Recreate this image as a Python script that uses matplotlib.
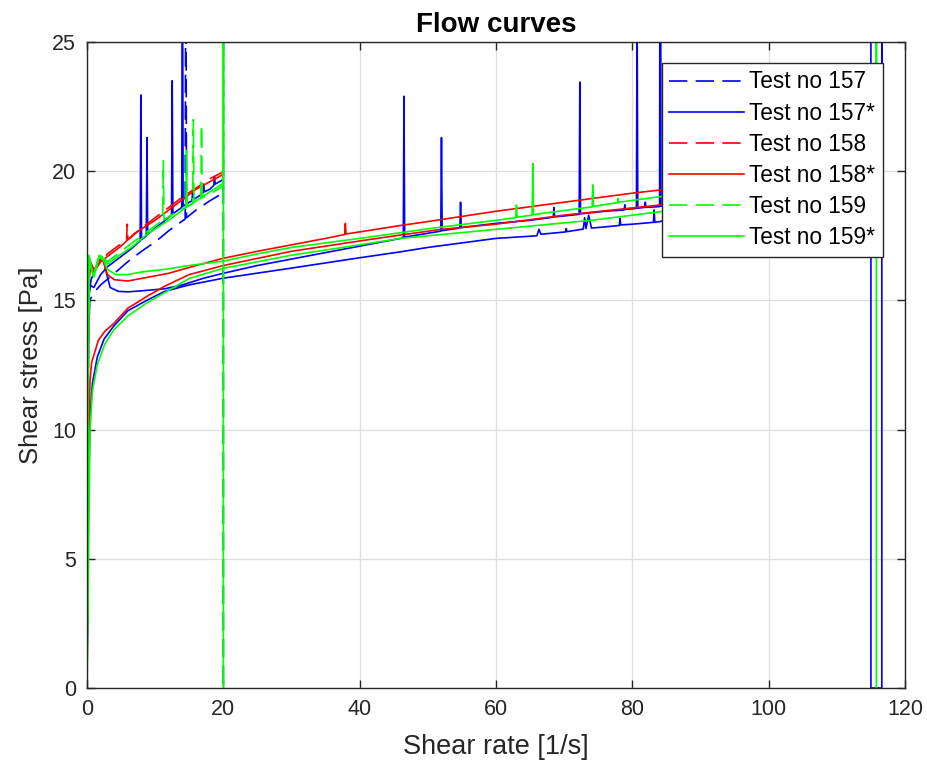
import numpy as np
import matplotlib
matplotlib.use("Agg")
import matplotlib.pyplot as plt

nan = np.nan

# ---------------------------------------------------------------------------
# Measured flow curves: shear rate [1/s] vs shear stress [Pa]
# Plain tests ramp 0 -> 20 1/s, starred tests ramp 0 -> 116 1/s and back.
# NaN separates the individual ramps of one test.
# ---------------------------------------------------------------------------

# Test no 157 (short ramp)
rate_157 = [0, 0.1, 0.2, 0.4, 1.0, 2.0, 3.6, 6.0, 8.0, 10.2, 12.0, 14.4, 14.5, 14.6,
            16.0, 18.0, 19.9, 20.0, 20.0, 20.0]
stress_157 = [0, 7, 13, 15.0, 15.3, 15.6, 15.95, 16.5, 16.9, 17.3, 17.7, 18.15, 30, 18.2,
              18.5, 18.85, 19.15, 19.15, 30, 0]

# Test no 157* (pre-ramp, ramp up, ramp down)
rate_157s = [0, 0.1, 0.2, 0.35, 1.0, 2.0, 3.0, 4.5, 6.5, 7.8, 7.9, 8.0, 8.7, 8.8, 8.9, 10.0,
             11.0, 12.4, 12.5, 12.6, 13.9, 14.0, 14.1, 15.0, 15.4, 15.5, 15.6, 16.5, 17.0,
             17.1, 17.2, 18.0, 18.6, 18.7, 18.8, 19.8, nan,
             0, 0.1, 0.2, 0.3, 0.6, 1.2, 2.0, 2.4, 2.9, 3.4, 4.6, 6.0, 8.0, 11.4, 14.0, 17.0,
             20.0, 25.0, 30.0, 35.0, 40.0, 44.0, 46.4, 46.5, 46.6, 50.0, 51.9, 52.0, 52.1,
             54.7, 54.8, 54.9, 60.0, 65.0, 68.4, 68.5, 68.6, 72.2, 72.3, 72.4, 76.0, 78.8,
             78.9, 79.0, 80.6, 80.7, 80.8, 81.8, 81.9, 82.0, 84.0, 84.1, 84.2, 90.0, 100.0,
             110.0, 116.6, 116.6, 116.6, 115.0, 115.0, nan,
             114.0, 100.0, 90.0, 84.0, 83.3, 83.2, 83.1, 80.0, 78.3, 78.2, 78.1, 75.0, 74.0,
             73.6, 73.2, 73.0, 72.8, 70.4, 70.3, 70.2, 66.6, 66.3, 66.0, 60.0, 50.0, 46.0,
             40.0, 30.0, 20.0, 15.0, 11.4, 8.75, 6.0, 3.9, 2.5, 1.5, 0.8, 0.45, 0.25, 0.1, 0]
stress_157s = [0, 8, 14, 15.6, 15.5, 16.0, 16.3, 16.6, 17.0, 17.3, 22.95, 17.35, 17.5, 21.3,
               17.55, 17.8, 18.0, 18.3, 23.5, 18.35, 18.6, 30, 18.65, 18.8, 18.85, 19.25,
               18.9, 19.05, 19.15, 19.5, 19.2, 19.3, 19.45, 19.8, 19.5, 19.65, nan,
               0, 7, 13, 15.2, 15.8, 16.2, 16.7, 16.6, 16.0, 15.5, 15.35, 15.33, 15.37,
               15.45, 15.6, 15.85, 16.05, 16.35, 16.6, 16.85, 17.1, 17.3, 17.42, 22.9, 17.45,
               17.6, 17.68, 21.3, 17.7, 17.8, 18.8, 17.82, 17.98, 18.1, 18.22, 18.6, 18.23,
               18.33, 23.45, 18.35, 18.45, 18.5, 18.7, 18.52, 18.56, 26, 18.57, 18.6, 18.8,
               18.6, 18.63, 40, 18.65, 18.8, 19.1, 19.4, 19.6, 40, 0, 0, 40, nan,
               19.0, 18.7, 18.35, 18.05, 18.02, 18.5, 18.02, 17.95, 17.92, 18.18, 17.9,
               17.82, 17.8, 18.3, 17.78, 18.2, 17.76, 17.66, 17.78, 17.65, 17.56, 17.75,
               17.5, 17.4, 17.05, 16.88, 16.65, 16.25, 15.86, 15.6, 15.35, 15.0, 14.6, 14.0,
               13.5, 12.8, 11.8, 10.5, 8, 4, 0]

# Test no 158 (short ramp)
rate_158 = [0, 0.05, 0.1, 0.15, 0.25, 0.5, 1.0, 2.0, 3.0, 4.5, 5.8, 5.9, 6.0, 6.5, 8.0,
            10.0, 12.0, 14.0, 16.0, 18.0, 19.8]
stress_158 = [0, 4, 9, 14, 16.2, 16.5, 16.2, 16.5, 16.8, 17.1, 17.3, 17.95, 17.35, 17.45,
              17.8, 18.2, 18.6, 19.0, 19.35, 19.7, 19.95]

# Test no 158* (pre-ramp, ramp up, ramp down)
rate_158s = [0, 0.1, 0.2, 0.35, 1.0, 2.0, 3.0, 5.0, 7.0, 10.0, 13.0, 16.0, 19.8, nan,
             0, 0.08, 0.15, 0.25, 0.5, 1.0, 1.8, 2.4, 3.0, 4.0, 6.0, 8.0, 12.0, 16.0, 20.0,
             25.0, 30.0, 35.0, 37.8, 37.9, 38.0, 40.0, 46.0, 50.0, 60.0, 70.0, 80.0, 84.0,
             95.0, 112.0, nan,
             112.0, 100.0, 90.0, 84.0, 70.0, 60.0, 52.0, 46.0, 40.0, 30.0, 20.0, 15.0, 11.4,
             8.75, 6.0, 3.9, 2.6, 1.66, 0.68, 0.44, 0.25, 0.1, 0]
stress_158s = [0, 9, 15, 16.4, 16.1, 16.5, 16.7, 17.1, 17.6, 18.1, 18.7, 19.3, 19.85, nan,
               0, 6, 12, 15.5, 16.3, 16.0, 16.6, 16.5, 16.0, 15.8, 15.75, 15.85, 16.05,
               16.35, 16.63, 16.9, 17.15, 17.4, 17.55, 17.98, 17.57, 17.65, 17.9, 18.05,
               18.45, 18.8, 19.15, 19.27, 19.6, 20.1, nan,
               19.4, 19.1, 18.85, 18.69, 18.3, 17.95, 17.75, 17.53, 17.3, 16.9, 16.35, 16.0,
               15.55, 15.15, 14.7, 14.1, 13.8, 13.45, 12.6, 11.9, 9, 4, 0]

# Test no 159 (short ramp)
rate_159 = [0, 0.1, 0.2, 0.3, 0.9, 1.8, 3.0, 4.5, 6.5, 9.0, 11.1, 11.2, 11.3, 13.0, 15.5,
            15.6, 15.7, 16.7, 16.8, 16.9, 18.0, 19.8, 20.0, 20.0, 20.0]
stress_159 = [0, 6, 12, 16.7, 15.9, 16.75, 16.5, 16.8, 17.2, 17.7, 18.1, 20.4, 18.12, 18.4,
              18.75, 22.0, 18.78, 18.95, 21.8, 18.97, 19.1, 19.4, 19.45, 30, 0]

# Test no 159* (pre-ramp, ramp up, ramp down)
rate_159s = [0, 0.1, 0.2, 0.3, 0.9, 1.8, 3.0, 4.5, 6.5, 9.0, 12.0, 14.5, 14.6, 14.7, 16.0,
             18.0, 19.8, 20.0, 20.0, 20.0, nan,
             0, 0.05, 0.15, 0.3, 0.6, 1.0, 1.4, 1.8, 2.2, 3.0, 4.2, 6.0, 8.0, 11.4, 15.0,
             20.0, 25.0, 30.0, 40.0, 46.0, 50.0, 60.0, 62.9, 63.0, 63.1, 65.3, 65.4, 65.5,
             70.0, 74.1, 74.2, 74.3, 77.8, 77.9, 78.0, 84.0, 95.0, 110.0, 115.8, 115.8,
             115.8, nan,
             114.0, 100.0, 90.0, 84.0, 74.0, 60.0, 46.0, 40.0, 30.0, 20.0, 15.0, 11.4, 8.75,
             6.0, 3.9, 2.6, 1.5, 0.8, 0.45, 0.3, 0.15, 0]
stress_159s = [0, 8, 14, 16.6, 15.95, 16.7, 16.4, 16.7, 17.05, 17.6, 18.1, 18.6, 20.8,
               18.62, 18.85, 19.2, 19.5, 19.5, 30, 0, nan,
               0, 5, 11, 16.75, 16.3, 15.9, 16.3, 16.75, 16.7, 16.2, 16.0, 16.0, 16.1,
               16.2, 16.35, 16.52, 16.8, 17.05, 17.4, 17.62, 17.77, 18.1, 18.2, 18.69,
               18.22, 18.3, 20.3, 18.32, 18.48, 18.62, 19.47, 18.64, 18.78, 18.95, 18.8,
               19.01, 19.4, 19.8, 20.0, 40, 0, nan,
               19.1, 18.8, 18.6, 18.43, 18.1, 17.75, 17.4, 17.15, 16.75, 16.24, 15.85, 15.3,
               14.9, 14.4, 13.85, 13.3, 12.5, 11.5, 10.0, 7, 3, 0]

labels = ["Test no 157", "Test no 157*", "Test no 158", "Test no 158*",
          "Test no 159", "Test no 159*"]
colors = ["#0000ff", "#ff0000", "#00ff00"]

plt.rcParams["font.family"] = ["Liberation Sans", "DejaVu Sans"]

fig = plt.figure(figsize=(9.28, 7.73), dpi=100)
ax = fig.add_axes([87 / 928, 1 - 688 / 773, (905 - 87) / 928, (688 - 42) / 773])

dash = (0, (11, 5))
series = [
    (rate_157, stress_157, rate_157s, stress_157s),
    (rate_158, stress_158, rate_158s, stress_158s),
    (rate_159, stress_159, rate_159s, stress_159s),
]
for i, (xd, yd, xs, ys) in enumerate(series):
    c = colors[i]
    ax.plot(xd, yd, color=c, lw=1.2, linestyle=dash, label=labels[2 * i])
    ax.plot(xs, ys, color=c, lw=1.2, linestyle="-", label=labels[2 * i + 1])

ax.set_xlim(0, 120)
ax.set_ylim(0, 25)
ax.set_xticks(np.arange(0, 121, 20))
ax.set_yticks(np.arange(0, 26, 5))
ax.grid(True, color="#dedede", linewidth=0.9)
ax.set_axisbelow(True)
for s in ax.spines.values():
    s.set_color("#262626")
    s.set_linewidth(1.0)
ax.tick_params(direction="in", length=6, width=1.0, top=True, right=True,
               labelsize=15.5, colors="#262626", labelcolor="#262626", pad=8)

ax.set_xlabel("Shear rate [1/s]", fontsize=19.5, color="#262626", labelpad=10)
ax.set_ylabel("Shear stress [Pa]", fontsize=18.5, color="#262626", labelpad=6)
ax.set_title("Flow curves", fontsize=20, fontweight="bold", color="black", pad=7)

leg = ax.legend(loc="upper right", bbox_to_anchor=(0.973, 0.9675), borderaxespad=0,
                fontsize=16.3, handlelength=3.3, handletextpad=0.25, labelspacing=0.36,
                borderpad=0.33, fancybox=False, framealpha=1, edgecolor="#262626")
leg.get_frame().set_linewidth(1.0)

fig.savefig("out.png", dpi=100)
